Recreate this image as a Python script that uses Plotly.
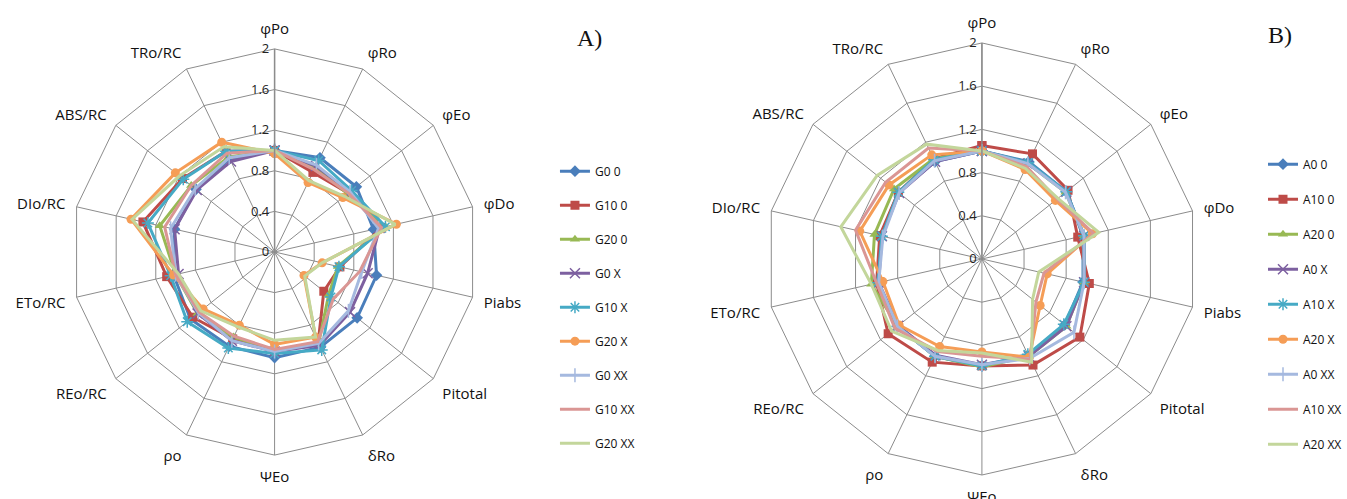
import plotly.graph_objects as go

categories = ["φPo", "φRo", "φEo", "φDo", "Piabs", "Pitotal", "δRo", "ΨEo", "ρo",
              "REo/RC", "ETo/RC", "DIo/RC", "ABS/RC", "TRo/RC"]

names_a = ["G0 0", "G10 0", "G20 0", "G0 X", "G10 X", "G20 X", "G0 XX", "G10 XX", "G20 XX"]
names_b = ["A0 0", "A10 0", "A20 0", "A0 X", "A10 X", "A20 X", "A0 XX", "A10 XX", "A20 XX"]

g0_0 = [1.00, 1.03, 1.03, 1.00, 1.03, 1.04, 1.04, 1.04, 1.03, 1.06, 1.02, 1.01, 0.99, 1.02]
g10_0 = [1.00, 0.87, 0.93, 1.08, 0.66, 0.62, 0.99, 0.98, 0.95, 1.03, 1.09, 1.33, 1.16, 1.10]
g20_0 = [1.00, 0.93, 0.92, 1.12, 0.64, 0.68, 1.00, 0.97, 0.93, 0.97, 1.00, 1.16, 1.05, 1.04]
g0_x = [1.00, 0.94, 0.95, 1.06, 0.94, 0.95, 1.02, 0.98, 0.97, 0.97, 0.97, 1.01, 0.98, 0.99]
g10_x = [1.00, 1.00, 0.97, 1.12, 0.65, 0.71, 1.07, 1.00, 1.05, 1.10, 1.05, 1.28, 1.15, 1.10]
g20_x = [0.97, 0.76, 0.86, 1.23, 0.48, 0.37, 0.93, 0.91, 0.80, 0.90, 1.02, 1.45, 1.25, 1.20]
g0_xx = [1.00, 0.95, 0.95, 1.05, 0.88, 0.93, 1.00, 0.98, 0.97, 0.96, 1.00, 1.05, 1.00, 1.03]
g10_xx = [1.00, 0.90, 0.93, 1.08, 0.86, 0.74, 0.98, 0.96, 0.92, 0.95, 1.00, 1.11, 1.05, 1.08]
g20_xx = [1.00, 0.78, 0.88, 1.22, 0.48, 0.38, 0.93, 0.87, 0.82, 0.93, 0.97, 1.44, 1.20, 1.15]

a0_0 = [1.00, 1.00, 1.00, 0.96, 0.96, 0.98, 1.00, 0.99, 1.00, 1.00, 0.99, 0.96, 0.99, 1.00]
a10_0 = [1.05, 1.08, 1.02, 0.91, 1.02, 1.16, 1.09, 0.99, 1.06, 1.11, 1.00, 0.97, 0.99, 1.03]
a20_0 = [1.00, 0.98, 0.99, 0.97, 0.97, 1.00, 1.00, 1.00, 1.00, 1.00, 1.05, 1.02, 1.04, 1.03]
a0_x = [1.00, 0.98, 1.00, 0.97, 0.97, 1.00, 1.00, 0.98, 0.99, 0.99, 0.98, 0.95, 0.98, 1.00]
a10_x = [1.00, 0.99, 1.00, 0.97, 0.97, 0.97, 0.98, 0.99, 1.00, 1.00, 0.99, 0.95, 0.99, 1.02]
a20_x = [1.00, 0.92, 0.87, 1.05, 0.62, 0.69, 1.01, 0.86, 0.90, 0.98, 0.94, 1.16, 1.10, 1.07]
a0_xx = [1.00, 0.98, 0.99, 0.97, 0.97, 1.09, 1.02, 0.98, 1.00, 1.00, 0.98, 0.94, 0.98, 1.01]
a10_xx = [1.00, 0.95, 0.89, 1.06, 0.59, 0.64, 1.03, 0.90, 0.95, 1.03, 1.00, 1.20, 1.14, 1.14]
a20_xx = [1.00, 0.93, 0.90, 1.11, 0.54, 0.60, 1.06, 0.87, 0.94, 1.07, 1.05, 1.34, 1.24, 1.18]

radial_ticks = [0, 0.4, 0.8, 1.2, 1.6, 2]

series_a = [g0_0, g10_0, g20_0, g0_x, g10_x, g20_x, g0_xx, g10_xx, g20_xx]
series_b = [a0_0, a10_0, a20_0, a0_x, a10_x, a20_x, a0_xx, a10_xx, a20_xx]

colors = ["#4A7EBB", "#BE4B48", "#98B954", "#7D60A0", "#46AAC5", "#F59D56",
          "#A5B9DF", "#DA9694", "#C3D69B"]
symbols = ["diamond", "square", "triangle-up", "x-thin-open", "asterisk-open",
           "circle", "line-ns-open", None, None]
msizes = [9, 9, 9, 10, 10, 9, 10, 0, 0]

fig = go.Figure()

def add_series(names, data, subplot, legend):
    for i, (nm, vals) in enumerate(zip(names, data)):
        r = list(vals) + [vals[0]]
        th = categories + [categories[0]]
        mk = dict(color=colors[i], size=msizes[i])
        mode = "lines+markers"
        if symbols[i] is None:
            mode = "lines"
        else:
            mk["symbol"] = symbols[i]
            if symbols[i].endswith("-open"):
                mk["line"] = dict(color=colors[i], width=1.5)
        fig.add_trace(go.Scatterpolar(
            r=r, theta=th, name=nm, mode=mode,
            line=dict(color=colors[i], width=3),
            marker=mk, subplot=subplot, legend=legend,
            legendgroup=legend + str(i),
        ))

add_series(names_a, series_a, "polar", "legend")
add_series(names_b, series_b, "polar2", "legend2")

grid = "#8C8C8C"

def polar_layout(domain_x, domain_y):
    return dict(
        domain=dict(x=domain_x, y=domain_y),
        bgcolor="white",
        gridshape="linear",
        radialaxis=dict(
            range=[0, 2], tickvals=radial_ticks,
            ticktext=[("%g" % v) for v in radial_ticks],
            angle=90, side="counterclockwise", tickangle=90,
            showline=True, linecolor=grid, linewidth=1.5,
            gridcolor=grid, gridwidth=1,
            tickfont=dict(family="Open Sans", size=13, color="#222"),
            ticks="",
        ),
        angularaxis=dict(
            rotation=90, direction="clockwise",
            categoryorder="array", categoryarray=categories,
            gridcolor=grid, linecolor=grid, linewidth=1,
            ticks="outside", ticklen=8, tickcolor="rgba(0,0,0,0)",
            tickfont=dict(family="Open Sans", size=15, color="#111"),
        ),
    )

fig.update_layout(
    width=1347, height=499,
    paper_bgcolor="white", plot_bgcolor="white",
    margin=dict(l=0, r=0, t=0, b=0),
    polar=polar_layout([0.053, 0.355], [0.088, 0.902]),
    polar2=polar_layout([0.569, 0.890], [0.048, 0.914]),
    legend=dict(x=0.412, y=0.686, xanchor="left", yanchor="top",
                font=dict(family="Open Sans", size=12, color="#111"),
                tracegroupgap=15, bgcolor="rgba(0,0,0,0)", itemwidth=30),
    legend2=dict(x=0.938, y=0.70, xanchor="left", yanchor="top",
                 font=dict(family="Open Sans", size=12, color="#111"),
                 tracegroupgap=16, bgcolor="rgba(0,0,0,0)", itemwidth=30),
    annotations=[
        dict(text="A)", x=590 / 1347, y=1 - 38 / 499, xref="paper", yref="paper",
             xanchor="center", yanchor="middle",
             showarrow=False, font=dict(family="Liberation Serif", size=24, color="#111")),
        dict(text="B)", x=1281 / 1347, y=1 - 35 / 499, xref="paper", yref="paper",
             xanchor="center", yanchor="middle",
             showarrow=False, font=dict(family="Liberation Serif", size=24, color="#111")),
    ],
)

fig.write_html("out.html", config={"displayModeBar": False},
               post_script="document.body.style.margin='0px';")
